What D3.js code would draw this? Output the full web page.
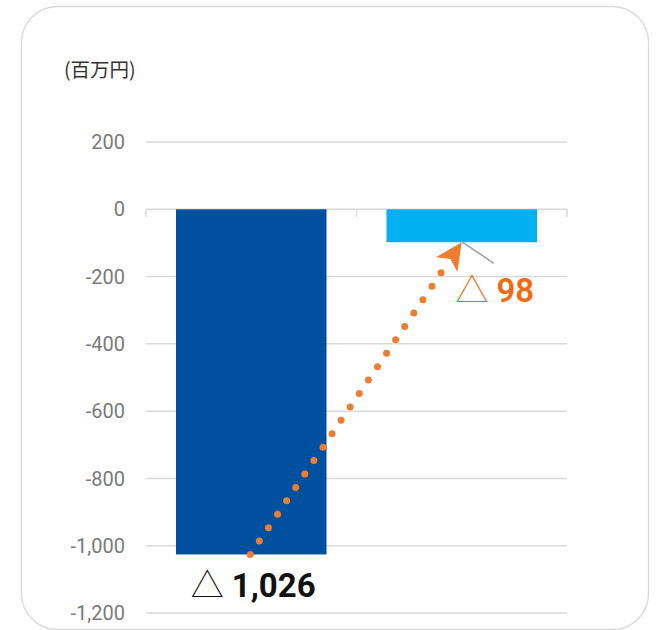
<!DOCTYPE html>
<html>
<head>
<meta charset="utf-8">
<script src="https://cdn.jsdelivr.net/npm/d3@7"></script>
<style>
  body { margin: 0; background: #fff; }
  svg { display: block; }
</style>
</head>
<body>
<svg id="area" width="667" height="630"></svg>
<script>
const categories = ['前期', '当期'];
const values = [-1026, -98];
const barColors = ['#0050A0', '#00B0F0'];
const labelColors = ['#111111', '#F26A10'];
const yTicks = [200, 0, -200, -400, -600, -800, -1000, -1200];
const unitLabel = '(百万円)';

const svg = d3.select('#area');
const locale = d3.formatLocale({ decimal: '.', thousands: ',', grouping: [3], currency: ['', ''], minus: '-' });
const fmt = locale.format(',');

// frame
svg.append('rect')
  .attr('x', 21.5).attr('y', 6.5)
  .attr('width', 627).attr('height', 623)
  .attr('rx', 36)
  .attr('fill', '#fff')
  .attr('stroke', '#d9d9d9')
  .attr('stroke-width', 1.3);

const x = d3.scaleBand().domain(categories).range([146, 567]).padding(0);
const y = d3.scaleLinear().domain([-1200, 200]).range([613, 142]);
const barW = x.bandwidth() * 0.715;

// unit
svg.append('text')
  .attr('x', 64).attr('y', 77)
  .attr('font-family', '"Noto Sans CJK JP", sans-serif')
  .attr('font-size', 19.5)
  .attr('fill', '#333')
  .text(unitLabel);

// grid
svg.append('g')
  .selectAll('line')
  .data(yTicks)
  .join('line')
  .attr('x1', 146).attr('x2', 567)
  .attr('y1', (d) => y(d)).attr('y2', (d) => y(d))
  .attr('stroke', '#d9d9d9')
  .attr('stroke-width', 1.5);

// y labels
svg.append('g')
  .selectAll('text')
  .data(yTicks)
  .join('text')
  .attr('x', 125)
  .attr('y', (d) => y(d))
  .attr('dy', '0.36em')
  .attr('text-anchor', 'end')
  .attr('font-family', 'Roboto, "Noto Sans", sans-serif')
  .attr('font-size', 20)
  .attr('fill', '#7a7a7a')
  .text((d) => fmt(d));

// category ticks on zero line
const bounds = [146, ...categories.map((c) => x(c) + x.bandwidth())];
svg.append('g')
  .selectAll('line')
  .data(bounds)
  .join('line')
  .attr('x1', (d) => d).attr('x2', (d) => d)
  .attr('y1', y(0)).attr('y2', y(0) + 8)
  .attr('stroke', '#d9d9d9')
  .attr('stroke-width', 1.5);

// bars
svg.append('g')
  .selectAll('rect')
  .data(values)
  .join('rect')
  .attr('x', (d, i) => x(categories[i]) + (x.bandwidth() - barW) / 2)
  .attr('y', y(0))
  .attr('width', barW)
  .attr('height', (d) => y(d) - y(0))
  .attr('fill', (d, i) => barColors[i]);

// leader line for second bar
const c2 = x(categories[1]) + x.bandwidth() / 2;
svg.append('line')
  .attr('x1', c2 + 1).attr('y1', y(values[1]))
  .attr('x2', c2 + 32).attr('y2', y(values[1]) + 21)
  .attr('stroke', '#a0a0a0')
  .attr('stroke-width', 1.5);

// labels
const labelPos = [
  { cx: x(categories[0]) + x.bandwidth() / 2 + 2, cy: y(values[0]) + 43 },
  { cx: c2 + 33, cy: y(values[1]) + 60 },
];
const lbl = svg.append('g')
  .selectAll('text')
  .data(values)
  .join('text')
  .attr('x', (d, i) => labelPos[i].cx)
  .attr('y', (d, i) => labelPos[i].cy)
  .attr('text-anchor', 'middle')
  .attr('font-family', '"Noto Sans CJK JP", sans-serif')
  .attr('font-size', 33)
  .attr('fill', (d, i) => labelColors[i]);
lbl.append('tspan').attr('font-weight', 300).text('△');
lbl.append('tspan').attr('dx', 8).attr('font-weight', (d, i) => (i === 0 ? 'bold' : 600))
  .attr('font-family', 'Roboto, "Noto Sans", sans-serif').text((d) => fmt(Math.abs(d)));

// dotted arrow from bar 1 bottom to bar 2 bottom
const p0 = [x(categories[0]) + x.bandwidth() / 2 - 1, y(values[0])];
const p1 = [c2, y(values[1])];
const dx = p1[0] - p0[0];
const dy = p1[1] - p0[1];
const len = Math.hypot(dx, dy);
const ux = dx / len;
const uy = dy / len;
const headLen = 27;
const headW = 13;
const base = [p1[0] - ux * headLen, p1[1] - uy * headLen];

svg.append('line')
  .attr('x1', p0[0]).attr('y1', p0[1])
  .attr('x2', base[0] - ux * 4).attr('y2', base[1] - uy * 4)
  .attr('stroke', '#ED7D31')
  .attr('stroke-width', 7)
  .attr('stroke-linecap', 'round')
  .attr('stroke-dasharray', '0 16.2');

const nx = -uy;
const ny = ux;
const notch = [p1[0] - ux * headLen * 0.75, p1[1] - uy * headLen * 0.75];
svg.append('path')
  .attr('d', d3.line()([
    p1,
    [base[0] + nx * headW, base[1] + ny * headW],
    notch,
    [base[0] - nx * headW, base[1] - ny * headW],
  ]) + 'Z')
  .attr('fill', '#ED7D31');
</script>
</body>
</html>
